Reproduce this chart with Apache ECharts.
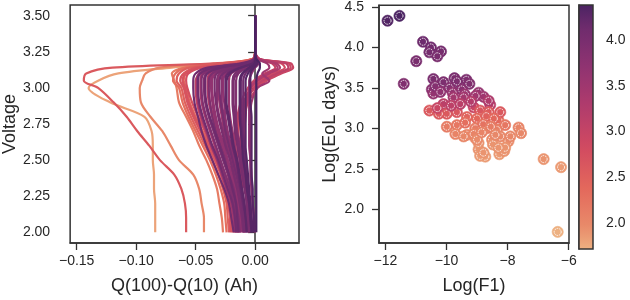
<!DOCTYPE html>
<html><head><meta charset="utf-8">
<script src="https://cdn.jsdelivr.net/npm/echarts@6/dist/echarts.min.js"></script>
<style>html,body{margin:0;padding:0;background:#fff}#c{width:630px;height:300px}</style>
</head><body><div id="c"></div>
<script>
// ---- data ----
const voltageGrid = [3.50,3.25,3.20,3.17,3.14,3.10,3.05,3.00,2.90,2.80,2.70,2.60,2.50,2.40,2.30,2.20,2.10,2.00];
const curveLife = [1.80,2.00,2.15,2.30,2.40,2.50,2.60,2.65,2.75,2.80,2.90,2.95,3.00,3.10,3.10,3.20,3.30,3.40,3.50,3.50,3.60,3.60,3.70,3.75,3.80,3.90,3.90,4.00,4.00,4.10,4.10,4.20,4.30,4.30,4.38,
                   3.85,4.05,3.95,4.15,3.65,4.25,4.00,4.20,3.90,4.10,3.70,4.30,3.30,2.90,2.70];
const curveDQ = [
 [0,0,-0.002,-0.030,-0.070,-0.115,-0.132,-0.140,-0.122,-0.093,-0.087,-0.086,-0.086,-0.085,-0.085,-0.084,-0.084,-0.084],
 [0,0,-0.002,-0.030,-0.080,-0.092,-0.095,-0.097,-0.096,-0.088,-0.078,-0.071,-0.064,-0.052,-0.047,-0.045,-0.043,-0.043],
 [0,0,-0.002,-0.025,-0.060,-0.070,-0.068,-0.066,-0.064,-0.058,-0.052,-0.047,-0.041,-0.036,-0.032,-0.030,-0.028,-0.027],
 [0,0,-0.002,-0.022,-0.058,-0.067,-0.069,-0.064,-0.061,-0.056,-0.050,-0.044,-0.038,-0.033,-0.029,-0.026,-0.025,-0.024],
 [0,0,-0.001,-0.016,-0.048,-0.058,-0.060,-0.058,-0.055,-0.050,-0.044,-0.038,-0.032,-0.027,-0.024,-0.021,-0.020,-0.019],
 [0,0,-0.002,-0.020,-0.055,-0.064,-0.066,-0.062,-0.059,-0.054,-0.048,-0.042,-0.036,-0.031,-0.027,-0.024,-0.023,-0.022],
 [0,0,-0.002,-0.035,-0.120,-0.142,-0.144,-0.132,-0.119,-0.108,-0.099,-0.089,-0.080,-0.068,-0.062,-0.059,-0.058,-0.058],
 [0,0,-0.001,-0.018,-0.050,-0.060,-0.063,-0.060,-0.057,-0.052,-0.046,-0.040,-0.034,-0.029,-0.025,-0.023,-0.021,-0.021],
 [0,0,-0.001,-0.015,-0.045,-0.056,-0.058,-0.057,-0.053,-0.048,-0.042,-0.036,-0.030,-0.025,-0.021,-0.019,-0.018,-0.017],
 [0,0,0.003,0.022,0.025,0.015,0.004,-0.003,-0.010,-0.013,-0.014,-0.015,-0.015,-0.015,-0.015,-0.015,-0.014,-0.014],
 [0,0,-0.001,-0.009,-0.034,-0.046,-0.050,-0.050,-0.049,-0.046,-0.042,-0.037,-0.032,-0.027,-0.023,-0.020,-0.019,-0.018],
 [0,0,0.004,0.030,0.032,0.022,0.010,0.002,-0.006,-0.009,-0.010,-0.011,-0.011,-0.011,-0.011,-0.010,-0.010,-0.010],
 [0,0,0.002,0.014,0.017,0.008,-0.001,-0.006,-0.012,-0.015,-0.017,-0.018,-0.018,-0.018,-0.017,-0.016,-0.016,-0.015],
 [0,0,0.004,0.026,0.028,0.018,0.006,-0.001,-0.008,-0.010,-0.011,-0.012,-0.012,-0.012,-0.012,-0.012,-0.012,-0.012],
 [0,0,0,-0.006,-0.026,-0.036,-0.038,-0.039,-0.038,-0.035,-0.032,-0.028,-0.024,-0.021,-0.018,-0.016,-0.015,-0.014],
 [0,0,0,-0.007,-0.027,-0.038,-0.040,-0.040,-0.039,-0.036,-0.033,-0.029,-0.025,-0.021,-0.018,-0.015,-0.014,-0.013],
 [0,0,0.003,0.018,0.021,0.012,0.002,-0.004,-0.009,-0.011,-0.012,-0.013,-0.013,-0.013,-0.012,-0.011,-0.010,-0.009],
 [0,0,-0.001,-0.009,-0.032,-0.044,-0.046,-0.046,-0.045,-0.042,-0.038,-0.034,-0.030,-0.026,-0.022,-0.019,-0.017,-0.016],
 [0,0,0,-0.004,-0.018,-0.029,-0.031,-0.031,-0.030,-0.028,-0.026,-0.023,-0.020,-0.017,-0.014,-0.012,-0.010,-0.009],
 [0,0,0.002,0.010,0.012,0.006,0.012,0.002,-0.003,-0.004,-0.004,-0.004,-0.004,-0.003,-0.003,-0.002,-0.001,0.000],
 [0,0,-0.001,-0.010,-0.036,-0.047,-0.049,-0.049,-0.048,-0.045,-0.041,-0.037,-0.032,-0.028,-0.024,-0.020,-0.018,-0.017],
 [0,0,0,-0.002,-0.011,-0.020,-0.022,-0.022,-0.022,-0.021,-0.019,-0.017,-0.015,-0.013,-0.011,-0.009,-0.007,-0.006],
 [0,0,0,-0.006,-0.024,-0.035,-0.037,-0.037,-0.036,-0.034,-0.031,-0.027,-0.023,-0.020,-0.017,-0.014,-0.012,-0.012],
 [0,0,0.001,0.003,0.000,-0.003,-0.005,-0.005,-0.005,-0.005,-0.005,-0.005,-0.004,-0.004,-0.003,-0.002,-0.001,0.000],
 [0,0,0,-0.003,-0.016,-0.026,-0.028,-0.028,-0.028,-0.026,-0.024,-0.021,-0.018,-0.015,-0.013,-0.011,-0.009,-0.008],
 [0,0,0,-0.008,-0.030,-0.041,-0.043,-0.043,-0.042,-0.039,-0.035,-0.031,-0.027,-0.023,-0.020,-0.017,-0.015,-0.014],
 [0,0,0,0,-0.007,-0.014,-0.016,-0.016,-0.016,-0.016,-0.015,-0.013,-0.011,-0.009,-0.008,-0.006,-0.005,-0.004],
 [0,0,0,-0.005,-0.021,-0.032,-0.034,-0.034,-0.033,-0.031,-0.028,-0.025,-0.021,-0.018,-0.015,-0.013,-0.011,-0.010],
 [0,0,0,-0.001,-0.009,-0.017,-0.019,-0.019,-0.019,-0.018,-0.017,-0.015,-0.013,-0.011,-0.009,-0.007,-0.006,-0.005],
 [0,0,-0.001,-0.012,-0.040,-0.050,-0.052,-0.052,-0.051,-0.048,-0.045,-0.041,-0.036,-0.031,-0.026,-0.022,-0.020,-0.018],
 [0,0,0,0.001,-0.003,-0.008,-0.010,-0.010,-0.010,-0.010,-0.010,-0.009,-0.008,-0.007,-0.006,-0.004,-0.003,-0.002],
 [0,0,0,-0.002,-0.013,-0.023,-0.025,-0.025,-0.025,-0.023,-0.021,-0.019,-0.016,-0.014,-0.012,-0.010,-0.008,-0.007],
 [0,0,0,0,-0.005,-0.011,-0.013,-0.013,-0.013,-0.013,-0.012,-0.011,-0.010,-0.008,-0.007,-0.005,-0.004,-0.003],
 [0,0,0,0.002,-0.001,-0.004,-0.004,-0.004,-0.004,-0.003,-0.003,-0.003,-0.003,-0.003,-0.002,-0.002,-0.001,-0.001],
 [0,0,0.001,0.004,0.004,0.002,0.001,0.001,0.001,0.001,0.001,0.001,0.001,0.001,0.001,0.001,0.001,0.001],
 [0,0,0,-0.004,-0.020,-0.030,-0.032,-0.032,-0.032,-0.030,-0.027,-0.024,-0.021,-0.018,-0.015,-0.012,-0.011,-0.010],
 [0,0,0,-0.003,-0.017,-0.027,-0.030,-0.030,-0.029,-0.027,-0.025,-0.022,-0.019,-0.016,-0.013,-0.011,-0.010,-0.009],
 [0,0,0,-0.006,-0.025,-0.036,-0.039,-0.039,-0.038,-0.036,-0.033,-0.029,-0.025,-0.022,-0.018,-0.016,-0.014,-0.013],
 [0,0,0,-0.007,-0.029,-0.040,-0.042,-0.042,-0.041,-0.038,-0.034,-0.030,-0.026,-0.022,-0.019,-0.016,-0.015,-0.014],
 [0,0,0,-0.005,-0.022,-0.033,-0.036,-0.036,-0.035,-0.033,-0.030,-0.026,-0.023,-0.019,-0.016,-0.014,-0.013,-0.012],
 [0,0,0,-0.002,-0.012,-0.021,-0.024,-0.024,-0.024,-0.022,-0.020,-0.018,-0.015,-0.013,-0.011,-0.009,-0.008,-0.007],
 [0,0,0,-0.001,-0.008,-0.015,-0.018,-0.018,-0.018,-0.017,-0.016,-0.014,-0.012,-0.010,-0.008,-0.007,-0.006,-0.005],
 [0,0,0,0,-0.004,-0.010,-0.012,-0.012,-0.012,-0.012,-0.011,-0.010,-0.009,-0.008,-0.006,-0.005,-0.004,-0.003],
 [0,0,0,-0.008,-0.031,-0.043,-0.045,-0.045,-0.044,-0.041,-0.037,-0.033,-0.029,-0.025,-0.021,-0.018,-0.016,-0.015],
 [0,0,0,-0.009,-0.035,-0.046,-0.048,-0.048,-0.047,-0.044,-0.040,-0.036,-0.031,-0.027,-0.023,-0.019,-0.017,-0.016],
 [0,0,0,-0.003,-0.014,-0.024,-0.027,-0.027,-0.026,-0.025,-0.023,-0.020,-0.017,-0.014,-0.012,-0.010,-0.009,-0.008],
 [0,0,0,0,-0.002,-0.006,-0.008,-0.008,-0.008,-0.008,-0.008,-0.008,-0.007,-0.006,-0.005,-0.004,-0.003,-0.002],
 [0,0,0.003,0.016,0.019,0.010,0.001,-0.004,-0.007,-0.008,-0.009,-0.009,-0.009,-0.009,-0.008,-0.007,-0.007,-0.006],
 [0,0,0.004,0.028,0.030,0.020,0.008,0.000,-0.010,-0.014,-0.016,-0.017,-0.017,-0.017,-0.017,-0.016,-0.016,-0.016],
 [0,0,-0.001,-0.017,-0.047,-0.058,-0.061,-0.059,-0.056,-0.051,-0.045,-0.039,-0.033,-0.028,-0.024,-0.022,-0.021,-0.020]
];
const scatterLogF1 = [-11.93,-11.54,-10.77,-10.51,-10.56,-10.18,-10.30,-10.99,-11.40,-10.43,-9.74,-9.35,-10.48,-10.43,-10.10,-9.61,-9.25,-8.95,-8.79,-10.37,-10.10,-9.66,-9.90,-9.50,-10.20,-9.80,-9.40,-9.05,-8.57,-8.62,-10.56,-10.10,-9.77,-9.44,-9.11,-8.90,-8.62,-9.99,-9.66,-9.33,-9.00,-8.30,-8.24,-10.25,-9.85,-9.55,-9.20,-8.70,-8.45,-10.30,-8.08,-9.99,-9.66,-9.39,-9.06,-8.68,-8.35,-7.64,-7.56,-9.71,-9.33,-9.06,-8.51,-8.24,-7.97,-9.44,-9.11,-7.91,-8.80,-8.55,-8.95,-8.73,-8.48,-8.27,-8.11,-6.82,-6.25,-6.36,-8.95,-8.90,-8.08,-9.00,-8.79,-8.30,-8.85,-8.40];
const scatterLogLife = [4.33,4.39,4.07,4.00,3.94,3.95,3.89,3.83,3.55,3.61,3.62,3.60,3.48,3.43,3.54,3.54,3.55,3.44,3.39,3.52,3.57,3.58,3.50,3.48,3.45,3.44,3.42,3.40,3.29,3.34,3.22,3.30,3.38,3.38,3.26,3.22,3.20,3.18,3.20,3.14,3.12,3.10,3.20,3.18,3.28,3.30,3.33,3.15,3.12,3.25,3.04,3.02,3.04,3.07,3.00,3.00,2.98,3.01,2.94,2.93,2.92,2.88,2.86,2.90,2.84,2.90,2.93,2.90,3.05,3.02,2.74,2.65,2.80,2.68,2.72,2.62,2.52,1.72,2.82,2.66,2.76,2.86,2.70,2.76,2.95,2.92];
const scatterColorValue = [4.33,4.38,4.15,4.10,4.05,4.05,4.00,4.00,3.90,4.00,4.00,3.95,3.80,3.65,3.90,3.90,3.90,3.65,3.50,3.85,3.95,3.95,3.85,3.80,3.70,3.65,3.60,3.50,3.15,3.30,2.60,3.15,3.45,3.45,2.95,2.65,2.60,2.60,2.65,2.45,2.40,2.35,2.60,2.60,3.10,3.15,3.25,2.50,2.40,2.95,2.20,2.15,2.20,2.30,2.15,2.15,2.10,2.05,2.00,2.05,2.05,2.00,1.95,2.00,1.95,2.00,2.05,2.00,2.25,2.15,1.90,1.85,1.90,1.85,1.90,1.90,1.85,1.72,1.90,1.85,1.90,1.95,1.90,1.90,2.05,2.00];
const leftXTicks = [-0.15,-0.10,-0.05,0.00];
const leftYTicks = [2.00,2.25,2.50,2.75,3.00,3.25,3.50];
const rightXTicks = [-12,-10,-8,-6];
const rightYTicks = [2.0,2.5,3.0,3.5,4.0,4.5];
const cbarTicks = [2.0,2.5,3.0,3.5,4.0];
const lifeMin = 1.72, lifeMax = 4.38;

// ---- colormap (seaborn "flare"-like) ----
const flareStops = [[0,[237,176,129]],[0.0833,[233,141,107]],[0.25,[227,104,92]],[0.4167,[209,74,97]],[0.5833,[177,60,108]],[0.75,[143,51,113]],[0.9167,[108,43,109]],[1,[75,35,98]]];
function flareRGB(t){
  t=Math.max(0,Math.min(1,t));
  for(let i=1;i<flareStops.length;i++){
    if(t<=flareStops[i][0]){
      const t0=flareStops[i-1][0],c0=flareStops[i-1][1],t1=flareStops[i][0],c1=flareStops[i][1];
      const u=(t-t0)/(t1-t0);
      return 'rgb('+c0.map((c,j)=>Math.round(c+(c1[j]-c)*u)).join(',')+')';
    }
  }
  return 'rgb('+flareStops[flareStops.length-1][1].join(',')+')';
}
function lifeColor(v){return flareRGB((v-lifeMin)/(lifeMax-lifeMin));}
const fmt = (v,d) => (v<-1e-9?'\u2212':'') + Math.abs(v).toFixed(d);

const txt = '#262626', axc = '#333';
function axisCommon(ticks, formatter, margin){
  return {
    axisLine:{show:true,lineStyle:{color:axc,width:1.5}},
    axisTick:{show:true,length:7,lineStyle:{color:axc,width:1.3},customValues:ticks},
    axisLabel:{customValues:ticks,formatter:formatter,margin:margin,fontSize:14,color:txt},
    splitLine:{show:false}
  };
}

const series = [];
const order = curveLife.map((v,i)=>i).sort((a,b)=>curveLife[a]-curveLife[b]);
order.forEach(k=>{
  const xs = curveDQ[k];
  series.push({
    type:'line', xAxisIndex:0, yAxisIndex:0,
    data: voltageGrid.map((v,i)=>[xs[i], v]),
    showSymbol:false, smooth:0.3, silent:true,
    lineStyle:{width:2.2,color:lifeColor(curveLife[k])},
    emphasis:{disabled:true}
  });
});
series.push({
  type:'custom', xAxisIndex:1, yAxisIndex:1, silent:true,
  data: scatterLogF1.map((x,i)=>[x, scatterLogLife[i], scatterColorValue[i]]),
  encode:{x:0,y:1},
  renderItem:(params, api)=>{
    const p = api.coord([api.value(0), api.value(1)]);
    const col = lifeColor(api.value(2));
    return {type:'group', children:[
      {type:'circle', shape:{cx:p[0],cy:p[1],r:5.6}, style:{fill:col, stroke:col, lineWidth:0.6}},
      {type:'circle', shape:{cx:p[0],cy:p[1],r:3.5}, style:{fill:'none', stroke:'#fff', lineWidth:0.9, lineDash:[1.6,0.9]}}
    ]};
  }
});
const gradStops = [];
for(let i=0;i<=20;i++){ gradStops.push({offset:i/20, color:flareRGB(i/20)}); }
series.push({
  type:'custom', xAxisIndex:2, yAxisIndex:2, silent:true,
  data:[[0, lifeMin, 1, lifeMax]],
  encode:{x:[0,2], y:[1,3]},
  renderItem:(params, api)=>{
    const p0 = api.coord([api.value(0), api.value(1)]);
    const p1 = api.coord([api.value(2), api.value(3)]);
    return {type:'rect', shape:{x:p0[0], y:p1[1], width:p1[0]-p0[0], height:p0[1]-p1[1]},
      style:{fill:new echarts.graphic.LinearGradient(0,1,0,0,gradStops)}};
  }
});

const option = {
  animation:false,
  textStyle:{fontFamily:'Liberation Sans, Arial, Helvetica, sans-serif'},
  grid:[
    {left:67, top:5, width:232, height:244, show:true, borderColor:axc, borderWidth:1.5, backgroundColor:'transparent', z:10},
    {left:379, top:5, width:190, height:244, show:true, borderColor:axc, borderWidth:1.5, backgroundColor:'transparent', z:10},
    {left:579, top:5, width:14, height:244, show:true, borderColor:axc, borderWidth:1.5, backgroundColor:'transparent', z:10}
  ],
  xAxis:[
    Object.assign({gridIndex:0,type:'value',min:-0.1555,max:0.0369,
      name:'Q(100)-Q(10) (Ah)',nameLocation:'middle',nameGap:34,nameTextStyle:{fontSize:18,color:txt}},
      axisCommon(leftXTicks, v=>fmt(v,2), 11)),
    Object.assign({gridIndex:1,type:'value',min:-12.21,max:-5.99,
      name:'Log(F1)',nameLocation:'middle',nameGap:34,nameTextStyle:{fontSize:18,color:txt}},
      axisCommon(rightXTicks, v=>fmt(v,0), 11)),
    {gridIndex:2,type:'value',min:0,max:1,show:false}
  ],
  yAxis:[
    Object.assign({gridIndex:0,type:'value',min:1.926,max:3.574,
      name:'Voltage',nameLocation:'middle',nameGap:49,nameTextStyle:{fontSize:18,color:txt}},
      axisCommon(leftYTicks, v=>fmt(v,2), 20)),
    Object.assign({gridIndex:1,type:'value',min:1.583,max:4.52,
      name:'Log(EoL days)',nameLocation:'middle',nameGap:40,nameTextStyle:{fontSize:18,color:txt}},
      axisCommon(rightYTicks, v=>fmt(v,1), 15)),
    Object.assign({gridIndex:2,type:'value',min:lifeMin,max:lifeMax,position:'right'},
      axisCommon(cbarTicks, v=>fmt(v,1), 13))
  ],
  series:series
};
const chart = echarts.init(document.getElementById('c'), null, {renderer:'canvas'});
chart.setOption(option);
</script>
</body></html>
